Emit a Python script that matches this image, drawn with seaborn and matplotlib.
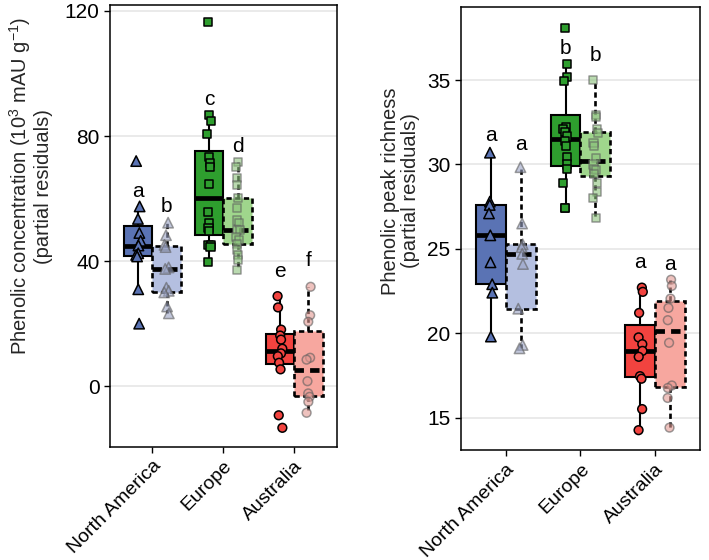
import numpy as np
import pandas as pd
import matplotlib
matplotlib.use("Agg")
import matplotlib.pyplot as plt
import seaborn as sns

regions = ["North America", "Europe", "Australia"]
groups = ["dark", "light"]

# Phenolic concentration (partial residuals)
conc = {
    ("North America", "dark"): [72, 57.5, 53.5, 49, 46.5, 45, 42.5, 42, 41.5, 31, 20],
    ("North America", "light"): [52.3, 48.3, 45.2, 44.5, 38, 37.5, 31.5, 30.5, 30, 25.5, 23.3],
    ("Europe", "dark"): [116.5, 86.7, 84.9, 80.6, 73.4, 71.3, 70.2, 64.6, 55.7, 52.1,
                         50.5, 49.5, 45.1, 45.1, 44.5, 39.8],
    ("Europe", "light"): [71.8, 70.2, 66.6, 64.3, 60.2, 57, 53, 52.1, 50, 49.9, 47.8,
                          46.7, 45.5, 43.5, 41.9, 40.3, 37.1],
    ("Australia", "dark"): [28.8, 25.2, 18.1, 16.2, 14.9, 12, 10.5, 9.6, 7.5, 5.4, -9.3, -13.3],
    ("Australia", "light"): [31.8, 22.7, 20.6, 9.1, 8.5, 1.6, -2.3, -3.4, -5, -8.5],
}

# Phenolic peak richness (partial residuals), right panel
rich = {
    ("North America", "dark"): [30.7, 27.8, 27.6, 27.1, 25.8, 24.2, 22.9, 22.4, 19.8],
    ("North America", "light"): [29.84, 26.5, 25.27, 25.1, 24.7, 24.1, 21.45, 19.3, 19.1],
    ("Europe", "dark"): [38.1, 35.96, 35.2, 34.97, 32.25, 32.1, 31.9, 31.66, 31.4, 31.1,
                         30.47, 30.0, 29.75, 28.93, 27.4, 27.4],
    ("Europe", "light"): [35.0, 32.95, 32.8, 32.1, 31.85, 31.3, 31.1, 30.4, 30.0, 29.75,
                          29.65, 29.45, 28.9, 28.35, 28.0, 26.8],
    ("Australia", "dark"): [22.7, 22.45, 21.2, 19.75, 19.35, 18.95, 18.6, 17.45, 17.3, 15.5, 14.25],
    ("Australia", "light"): [23.17, 22.8, 22.05, 21.5, 20.77, 19.43, 16.9, 16.75, 16.16, 14.4],
}

conc_letters = ["a", "b", "c", "d", "e", "f"]
conc_letter_y = [62.2, 57.4, 91.8, 76.6, 36.6, 40.3]
rich_letters = ["a", "a", "b", "b", "a", "a"]
rich_letter_y = [31.7, 31.2, 36.9, 36.45, 24.2, 24.05]

colors = {
    ("North America", "dark"): "#5a73b4", ("North America", "light"): "#b4bfe0",
    ("Europe", "dark"): "#2e9e2e", ("Europe", "light"): "#9fd68c",
    ("Australia", "dark"): "#f2433f", ("Australia", "light"): "#f7a79f",
}
point_light = {"North America": "#9aa3c4", "Europe": "#8cc27c", "Australia": "#e39a94"}
markers = {"North America": "^", "Europe": "s", "Australia": "o"}
msize = {"North America": 7.5, "Europe": 5.8, "Australia": 6.3}
dash = (0, (2.0, 1.3))


def make_frame(values):
    rows = []
    for (region, group), vals in values.items():
        for v in vals:
            rows.append((region, group, v))
    return pd.DataFrame(rows, columns=["region", "group", "value"])


def draw_panel(ax, values, letters, letter_y, ylim, yticks, ylabel, label_y, labelpad):
    df = make_frame(values)
    sns.boxplot(data=df, x="region", y="value", hue="group", order=regions,
                hue_order=groups, width=0.8, gap=0, dodge=True, showcaps=False,
                showfliers=False, linewidth=1.5, linecolor="black",
                medianprops=dict(linewidth=3.4), legend=False, ax=ax)

    # colour each box by region and make the second group dashed
    for p in ax.patches:
        xs = p.get_path().vertices[:, 0]
        xc = (xs.min() + xs.max()) / 2
        i = int(round(xc))
        grp = "light" if xc > i else "dark"
        p.set_facecolor(colors[(regions[i], grp)])
        if grp == "light":
            p.set_linestyle(dash)
            p.set_linewidth(1.9)
    for ln in ax.lines:
        xd = np.asarray(ln.get_xdata(), dtype=float)
        xc = xd.mean()
        i = int(round(xc))
        if xc > i:
            ln.set_linestyle(dash)
            if ln.get_linewidth() < 3:
                ln.set_linewidth(1.9)

    for region in regions:
        for grp in groups:
            sub = df[(df.region == region) & (df.group == grp)]
            dark = grp == "dark"
            sns.stripplot(data=sub, x="region", y="value", hue="group", order=regions,
                          hue_order=groups, dodge=True, jitter=0.07,
                          marker=markers[region], size=msize[region],
                          palette={"dark": colors[(region, "dark")],
                                   "light": point_light[region]},
                          edgecolor="black" if dark else "#5e5e5e",
                          linewidth=1.1, alpha=1.0 if dark else 0.6,
                          legend=False, ax=ax, zorder=4)

    k = 0
    for i in range(len(regions)):
        for off in (-0.2, 0.2):
            ax.text(i + off, letter_y[k], letters[k], ha="center", va="center",
                    fontsize=15, color="black")
            k += 1

    ax.set_xlim(-0.6, 2.6)
    ax.set_ylim(*ylim)
    ax.set_yticks(yticks)
    ax.set_xticks(range(len(regions)))
    ax.set_xticklabels(regions, rotation=45, ha="right", rotation_mode="anchor", fontsize=14)
    ax.set_xlabel("")
    ax.set_ylabel(ylabel, fontsize=14.5, linespacing=1.1, labelpad=labelpad)
    ax.yaxis.label.set_y(label_y)
    ax.yaxis.grid(True, color="#e8e8e8", linewidth=1.3)
    ax.xaxis.grid(False)
    ax.set_axisbelow(True)
    for s in ax.spines.values():
        s.set_visible(True)
        s.set_color("black")
        s.set_linewidth(1.1)
    ax.tick_params(axis="y", labelsize=15)
    ax.tick_params(direction="out", length=4, width=1, color="black",
                   left=True, bottom=True, labelcolor="black")


sns.set_style("white")
plt.rcParams["font.family"] = ["Liberation Sans", "DejaVu Sans"]
plt.rcParams["mathtext.fontset"] = "custom"
plt.rcParams["mathtext.rm"] = "Liberation Sans"
plt.rcParams["mathtext.it"] = "Liberation Sans:italic"
plt.rcParams["mathtext.bf"] = "Liberation Sans:bold"

np.random.seed(7)
fig = plt.figure(figsize=(7.09, 5.6), dpi=100)
ax1 = fig.add_axes([0.155, 0.202, 0.320, 0.789])
ax2 = fig.add_axes([0.650, 0.196, 0.3375, 0.7916])

draw_panel(ax1, conc, conc_letters, conc_letter_y, (-19.4, 121.9), [0, 40, 80, 120],
           "Phenolic concentration (10$^{3}$ mAU g$^{-1}$)\n(partial residuals)", 0.59, 8)
draw_panel(ax2, rich, rich_letters, rich_letter_y, (13.06, 39.34), [15, 20, 25, 30, 35],
           "Phenolic peak richness\n(partial residuals)", 0.585, 5)

fig.savefig("out.png", dpi=100)
